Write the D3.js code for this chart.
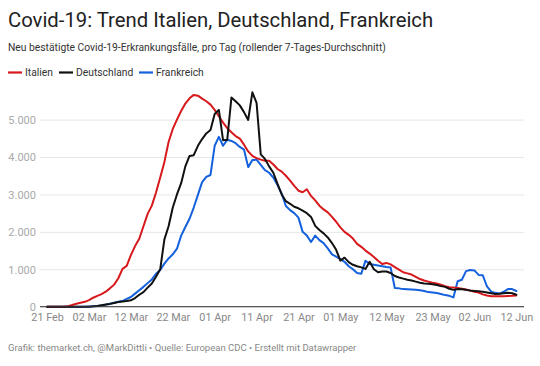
<!DOCTYPE html>
<html>
<head>
<meta charset="utf-8">
<script src="https://cdn.jsdelivr.net/npm/d3@7"></script>
<style>
  html, body { margin: 0; padding: 0; background: #fff; }
  svg { display: block; font-family: Roboto, "Liberation Sans", Arial, sans-serif; }
</style>
</head>
<body>
<svg id="chart" width="540" height="366"></svg>
<script>
// ---- data (daily 7-day rolling averages, starting 21 Feb 2020) ----
const startDate = "2020-02-21";
const seriesNames = ["Italien", "Deutschland", "Frankreich"];
const seriesColors = ["#d7191c", "#111111", "#1460dd"];

const italien = [
  0, 0, 0, 0, 0, 15, 45, 80, 105, 130,
  175, 240, 290, 335, 400, 490, 590, 760, 1010, 1090,
  1380, 1620, 1815, 2150, 2480, 2700, 3050, 3450, 3870, 4400,
  4750, 5000, 5230, 5430, 5570, 5660, 5640, 5560, 5490, 5400,
  5260, 5090, 4920, 4770, 4660, 4560, 4490, 4330, 4150, 4030,
  3970, 3930, 3900, 3900, 3800, 3680, 3610, 3500, 3370, 3230,
  3100, 3060, 3140, 2960, 2840, 2700, 2600, 2520, 2400, 2270,
  2120, 2000, 1920, 1820, 1680, 1600, 1500, 1420, 1330, 1230,
  1140, 1170, 1130, 1060, 990, 920, 890, 860, 800, 740,
  700, 670, 640, 620, 590, 550, 520, 510, 500, 480,
  460, 430, 400, 380, 330, 300, 280, 280, 280, 280,
  285, 290, 300
];

const deutschland = [
  0, 0, 0, 0, 0, 0, 0, 0, 0, 0,
  0, 10, 20, 40, 60, 75, 100, 125, 140, 150,
  170, 230, 320, 390, 510, 620, 800, 1000, 1800, 2150,
  2650, 3000, 3300, 3750, 4030, 4050, 4300, 4480, 4630, 4720,
  5150, 5260, 4450, 4460, 5590, 5490, 5380, 5200, 4990, 5730,
  5450, 4070, 3950, 3750, 3580, 3280, 3000, 2820, 2750, 2670,
  2630, 2570, 2500, 2400, 2160, 2050, 1960, 1850, 1700, 1520,
  1230, 1310, 1190, 1120, 1080, 1050, 1010, 1200, 1000, 920,
  940, 940, 900, 820, 780, 750, 720, 700, 670, 640,
  620, 615, 600, 580, 550, 530, 480, 450, 470, 465,
  450, 430, 420, 410, 400, 380, 360, 340, 345, 360,
  370, 360, 320
];

const frankreich = [
  0, 0, 0, 0, 0, 0, 0, 0, 0, 0,
  5, 10, 20, 35, 55, 80, 105, 130, 150, 210,
  260, 350, 440, 530, 630, 730, 880, 980, 1150, 1290,
  1400, 1550, 1900, 2130, 2350, 2650, 2990, 3330, 3470, 3520,
  4300, 4540, 4300, 4460, 4430, 4370, 4270, 4200, 3730, 3920,
  3930, 3790, 3650, 3580, 3450, 3250, 3020, 2690, 2580, 2500,
  2380, 2000, 1900, 1730, 1900, 1780, 1700, 1560, 1400, 1340,
  1270, 1200, 1080, 1000, 900, 880, 1230, 1140, 1120, 1100,
  1080, 1060, 1050, 500, 490, 470, 465, 460, 450, 440,
  420, 390, 380, 365, 340, 310, 290, 250, 680, 720,
  950, 980, 970, 850, 840, 540, 400, 370, 350, 400,
  470, 470, 420
];

const yTicks = [0, 1000, 2000, 3000, 4000, 5000];
const xTickDates = ["2020-02-21", "2020-03-02", "2020-03-12", "2020-03-22", "2020-04-01",
  "2020-04-11", "2020-04-21", "2020-05-01", "2020-05-12", "2020-05-23", "2020-06-02", "2020-06-12"];

const titleText = "Covid-19: Trend Italien, Deutschland, Frankreich";
const subtitleText = "Neu bestätigte Covid-19-Erkrankungsfälle, pro Tag (rollender 7-Tages-Durchschnitt)";
const footerText = "Grafik: themarket.ch, @MarkDittli \u2022 Quelle: European CDC \u2022 Erstellt mit Datawrapper";

// ---- build ----
const parse = d3.utcParse("%Y-%m-%d");
const t0 = parse(startDate);
const allSeries = [italien, deutschland, frankreich].map((vals, si) => ({
  name: seriesNames[si],
  color: seriesColors[si],
  values: vals.map((v, i) => ({ date: d3.utcDay.offset(t0, i), value: v }))
}));

const svg = d3.select("#chart");
const FONT = "Roboto, 'Liberation Sans', Arial, sans-serif";

const plotLeft = 40, plotRight = 524;
const x = d3.scaleUtc()
  .domain([t0, parse("2020-06-12")])
  .range([47.1, 516.3]);
const y = d3.scaleLinear().domain([0, 5000]).range([306.7, 119.6]);

// title
svg.append("text").attr("x", 8).attr("y", 27)
  .attr("font-size", 20.3).attr("fill", "#222").text(titleText);
svg.append("text").attr("x", 8).attr("y", 50.5)
  .attr("font-size", 10.3).attr("fill", "#333").text(subtitleText);

// legend
const legend = svg.append("g");
const legendX = [8, 59, 139];
allSeries.forEach((s, i) => {
  const g = legend.append("g").attr("transform", `translate(${legendX[i]},72.5)`);
  g.append("line").attr("x1", 0).attr("x2", 14).attr("y1", 0).attr("y2", 0)
    .attr("stroke", s.color).attr("stroke-width", 2.2);
  g.append("text").attr("x", 17).attr("y", 3.7).attr("font-size", 10.3)
    .attr("fill", "#333").text(s.name);
});

// y grid + labels
const fmt = d3.formatLocale({ decimal: ",", thousands: ".", grouping: [3], currency: ["", ""] }).format(",");
const yAxis = d3.axisLeft(y).tickValues(yTicks).tickSize(-(plotRight - plotLeft)).tickFormat(d => d === 0 ? "0" : fmt(d)).tickPadding(4);
const gy = svg.append("g").attr("transform", `translate(${plotLeft},0)`).call(yAxis);
gy.select(".domain").remove();
gy.selectAll(".tick line").attr("stroke", "#e6e6e6").attr("stroke-width", 1);
gy.selectAll(".tick text").attr("font-size", 11).attr("fill", "#aaa")
  .attr("font-family", FONT).attr("dy", "0.35em");

// x axis labels
const xFmt = d3.utcFormat("%d %b");
const xAxis = d3.axisBottom(x).tickValues(xTickDates.map(parse)).tickSize(0).tickPadding(0)
  .tickFormat(d => xFmt(d));
const gx = svg.append("g").attr("transform", `translate(0,${y(0)})`).call(xAxis);
gx.select(".domain").remove();
gx.selectAll(".tick text").attr("font-size", 10.8).attr("fill", "#888").attr("dy", 0).attr("y", 14.5)
  .attr("font-family", FONT);

// lines
const line = d3.line().x(d => x(d.date)).y(d => y(d.value)).curve(d3.curveLinear);
svg.append("g").selectAll("path").data([allSeries[2], allSeries[0], allSeries[1]]).join("path")
  .attr("d", d => line(d.values))
  .attr("fill", "none").attr("stroke", d => d.color).attr("stroke-width", 2)
  .attr("stroke-linejoin", "round").attr("stroke-linecap", "round");

// baseline
svg.append("line").attr("x1", plotLeft).attr("x2", plotRight).attr("y1", y(0)).attr("y2", y(0))
  .attr("stroke", "#333").attr("stroke-width", 1);

// footer
svg.append("text").attr("x", 8).attr("y", 351).attr("font-size", 9.5)
  .attr("fill", "#888").text(footerText);
</script>
</body>
</html>
